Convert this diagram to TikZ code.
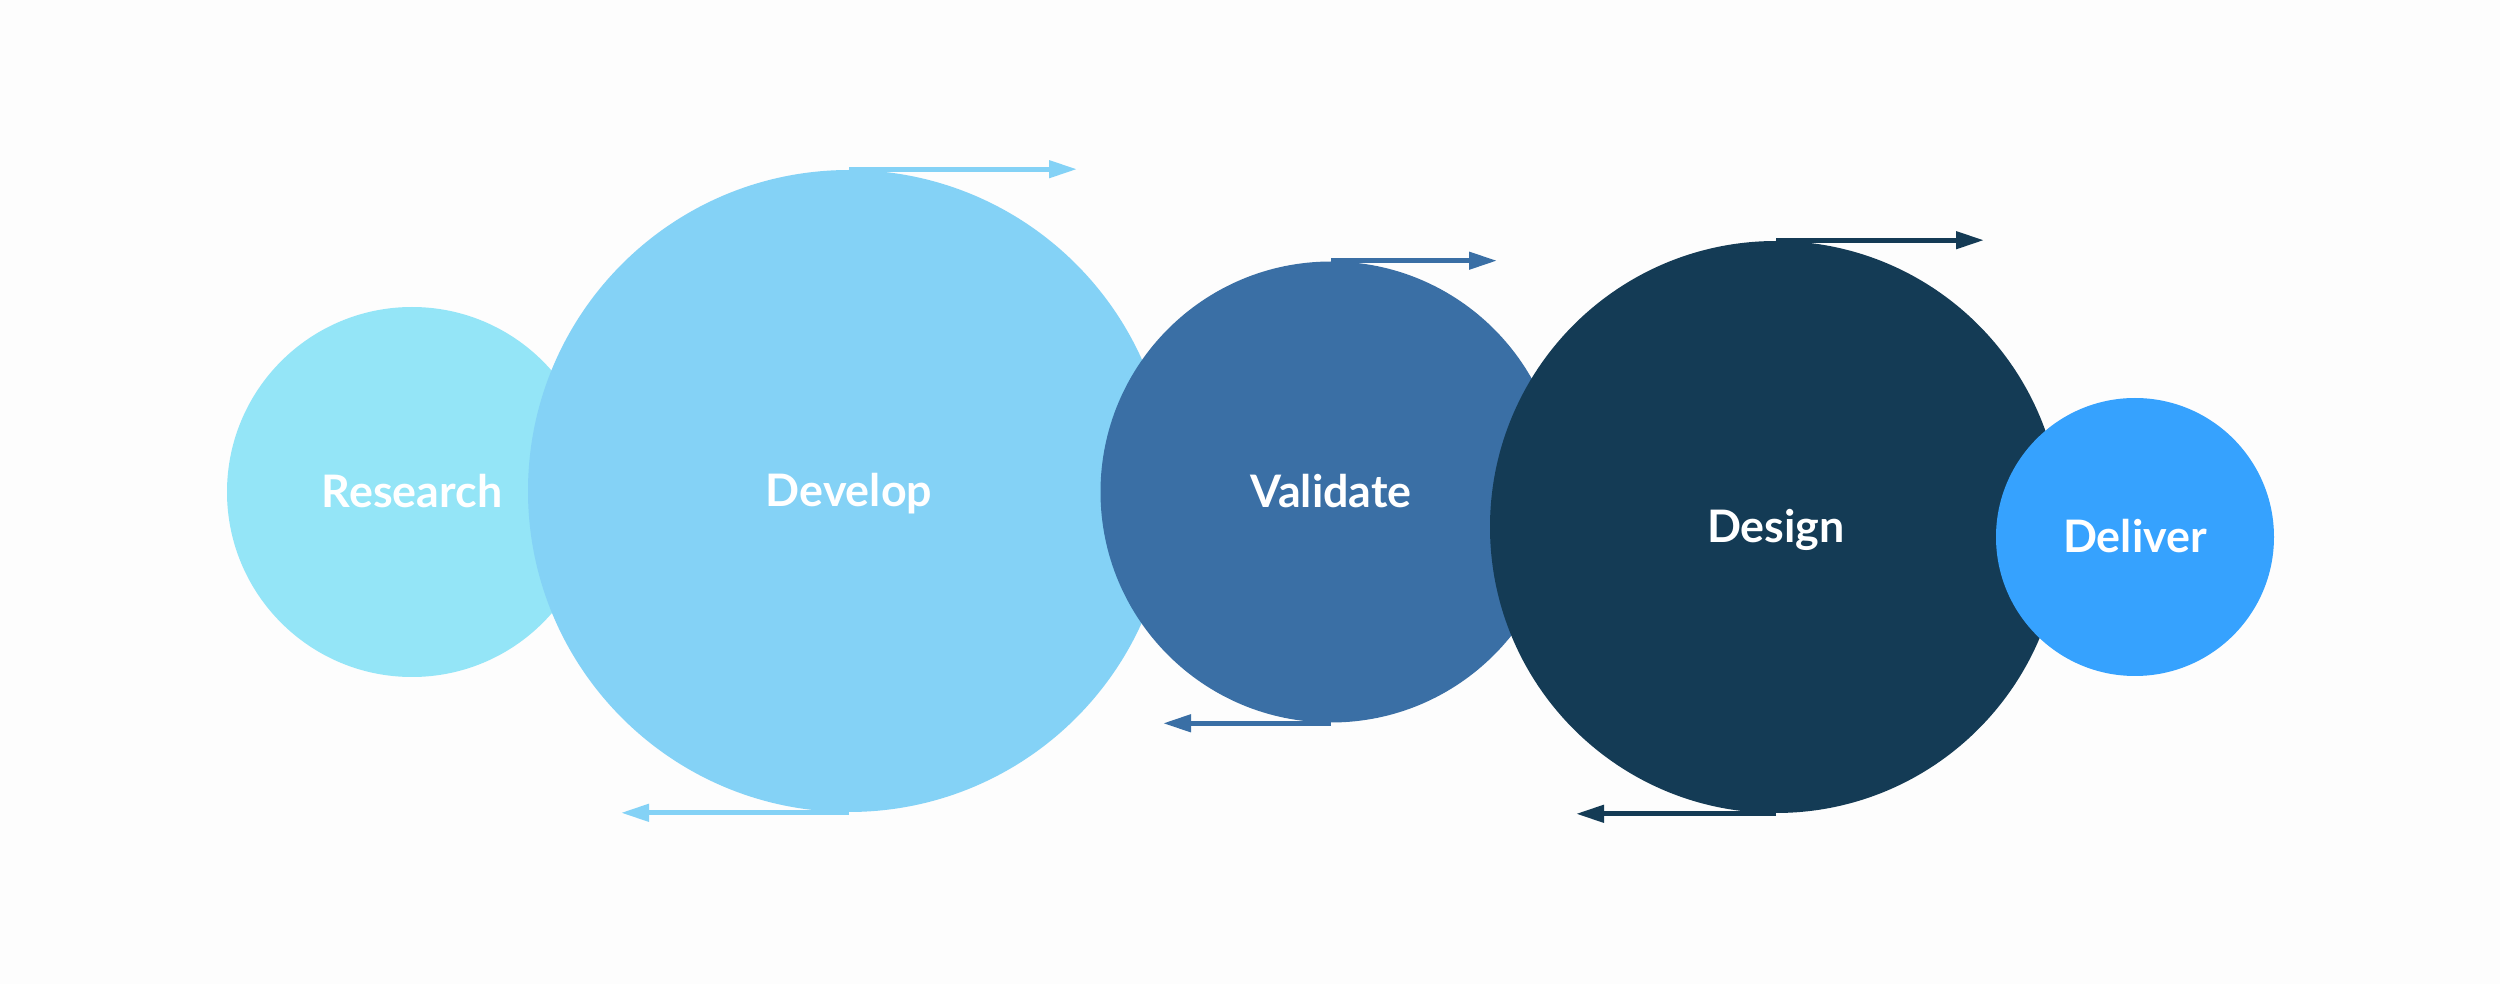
\documentclass[tikz,border=0pt]{standalone}
\usepackage{fontspec}
\setmainfont{Lato}
\usepackage{xcolor}
\usepackage{tikz}
\usetikzlibrary{positioning,arrows.meta}
\definecolor{researchc}{RGB}{148,229,247}
\definecolor{developc}{RGB}{132,210,246}
\definecolor{validatec}{RGB}{58,111,165}
\definecolor{designc}{RGB}{20,59,85}
\definecolor{deliverc}{RGB}{54,162,254}
\definecolor{paperc}{RGB}{253,253,253}
\begin{document}
\begin{tikzpicture}[x=0.25pt,y=0.25pt,yscale=-1,xscale=1,
  stage/.style={circle,inner sep=0pt,text=white,font=\fontsize{11.2}{13}\selectfont\bfseries,text height=7.8pt,text depth=0pt},
  flow/.style={line width=1.25pt,-{Triangle[length=7pt,width=4.2pt]}}]
\fill[paperc] (0,0) rectangle (2500,984);
\useasboundingbox (0,0) rectangle (2500,984);
\node [stage,fill=researchc,minimum size=92.5pt] (research) at (412,492) {Research};
\node [stage,fill=developc,minimum size=160.5pt] (develop) at (849,491) {Develop};
\coordinate [right=57pt of develop.north] (developout);
\coordinate [left=57pt of develop.south] (developback);
\draw [flow,developc] (develop.north) -- (developout);
\draw [flow,developc] (develop.south) -- (developback);
\node [stage,fill=validatec,minimum size=115.25pt] (validate) at (1331,492) {Validate};
\coordinate [right=41.5pt of validate.north] (validateout);
\coordinate [left=42pt of validate.south] (validateback);
\draw [flow,validatec] (validate.north) -- (validateout);
\draw [flow,validatec] (validate.south) -- (validateback);
\node [stage,fill=designc,minimum size=143pt] (design) at (1776,527) {Design};
\coordinate [right=52pt of design.north] (designout);
\coordinate [left=50pt of design.south] (designback);
\draw [flow,designc] (design.north) -- (designout);
\draw [flow,designc] (design.south) -- (designback);
\node [stage,fill=deliverc,minimum size=69.5pt] (deliver) at (2135,537) {Deliver};
\end{tikzpicture}
\end{document}
